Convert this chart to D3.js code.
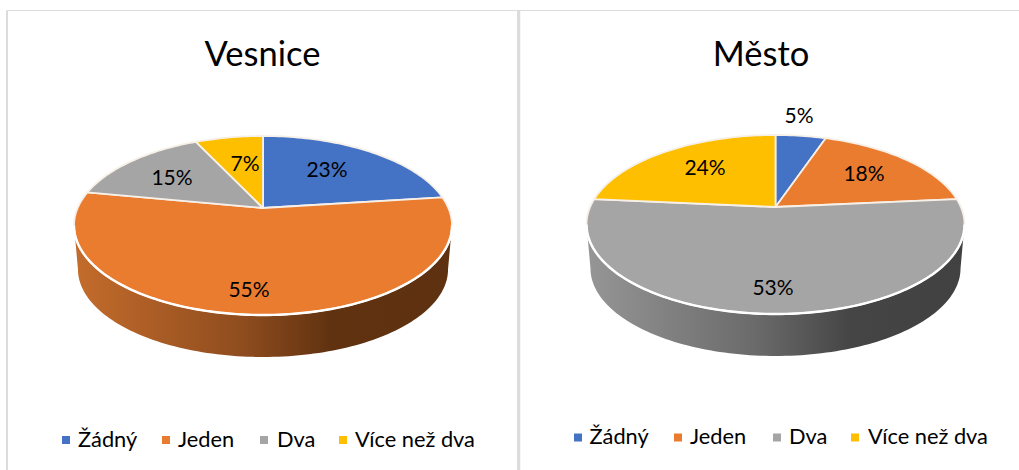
<!DOCTYPE html>
<html><head><meta charset="utf-8">
<script src="https://cdnjs.cloudflare.com/ajax/libs/d3/7.8.5/d3.min.js"></script>
<style>html,body{margin:0;padding:0;background:#fff}svg{display:block}text{font-family:Lato,"Open Sans",sans-serif;fill:#000}</style>
</head><body><div id="c"></div>
<script>
const categories = ["Žádný","Jeden","Dva","Více než dva"];
const colors = ["#4472C4","#EA7C30","#A5A5A5","#FEBF00"];
const vesniceValues = [23,55,15,7];
const mestoValues = [5.2,18.3,53,23.5];
const titles = ["Vesnice","Město"];

const W=1019,H=470;
const svg=d3.select("#c").append("svg").attr("width",W).attr("height",H);
const defs=svg.append("defs");

// frames
const frame=[[7,10.5,7,470],[7,10.5,1019,10.5],[518,10.5,518,470],[519.5,10.5,519.5,470]];
const frameW=[2,1,2,1.5];
frame.forEach((f,i)=>svg.append("line").attr("x1",f[0]).attr("y1",f[1]).attr("x2",f[2]).attr("y2",f[3])
  .attr("stroke","#DCDCDC").attr("stroke-width",frameW[i]));

const panels=[
 {values:vesniceValues,title:titles[0],tx:262.5,ty:66,cx:263,far:136,apex:208,near:315,
  labels:[[327,170],[249,290],[172,178],[245,164]],
  lx:[62,162,260,339],tx2:[78,178,277,355],ly:446.5,
  grad:[["0%","#C46C2C"],["45%","#8E4C1E"],["68%","#603210"],["100%","#5E3110"]]},
 {values:mestoValues,title:titles[1],tx:761,ty:66,cx:775.5,far:135,apex:207,near:314,
  labels:[[799,116],[864,174],[773,288],[705,168]],
  lx:[574,674,773,851],tx2:[589.5,690,789,868],ly:444,
  grad:[["0%","#969696"],["45%","#6A6A6A"],["70%","#454545"],["100%","#414141"]]}
];
const RX=189,DEPTH=42,SHRINK=0.979;

panels.forEach((p,pi)=>{
  const g=svg.append("g");
  // perspective projection of the unit disc
  const b=p.apex;
  const c=(2*b-p.far-p.near)/(p.far-p.near);
  const a=p.far*(1+c)-b;
  const K=RX*Math.sqrt(1-c*c);
  const ecy=(p.far+p.near)/2, ery=(p.near-p.far)/2;
  const proj=(th)=>{const u=Math.sin(th),v=Math.cos(th),d=1+c*v;
    return [p.cx+K*u/d,(a*v+b)/d];};
  const projB=th=>{const q=proj(th);const bry=ery*SHRINK;const bcy=p.near+DEPTH-bry;
    return [p.cx+(q[0]-p.cx)*SHRINK,bcy+(q[1]-ecy)*SHRINK];};
  const line=d3.line();
  const th0=Math.acos(-c),th1=2*Math.PI-th0;
  const thetas=d3.range(0,121).map(i=>th0+(th1-th0)*i/120);

  // side wall
  const gid="side"+pi;
  const lg=defs.append("linearGradient").attr("id",gid).attr("gradientUnits","userSpaceOnUse")
    .attr("x1",p.cx-RX).attr("x2",p.cx+RX).attr("y1",0).attr("y2",0);
  p.grad.forEach(s=>lg.append("stop").attr("offset",s[0]).attr("stop-color",s[1]));
  const sidePts=thetas.map(t=>proj(t)).concat(thetas.slice().reverse().map(t=>projB(t)));
  g.append("path").attr("d",line(sidePts)+"Z").attr("fill","url(#"+gid+")");

  // top face slices
  const pie=d3.pie().sort(null)(p.values);
  pie.forEach((s,i)=>{
    const n=Math.max(4,Math.ceil((s.endAngle-s.startAngle)*40));
    const arcPts=d3.range(0,n+1).map(k=>proj(s.startAngle+(s.endAngle-s.startAngle)*k/n));
    g.append("path").attr("d",line([[p.cx,b],...arcPts])+"Z")
      .attr("fill",colors[i]).attr("stroke","#F6F0E8").attr("stroke-width",1.8).attr("stroke-linejoin","round");
  });
  // bright rim on the near edge
  g.append("path").attr("d",line(thetas.map(t=>proj(t)))).attr("fill","none").attr("stroke","#FFFFFF").attr("stroke-width",2.4);

  // data labels
  p.values.forEach((v,i)=>{
    g.append("text").attr("x",p.labels[i][0]).attr("y",p.labels[i][1]+7).attr("text-anchor","middle")
      .attr("font-size",21).text(Math.round(v)+"%");
  });
  // title
  g.append("text").attr("x",p.tx).attr("y",p.ty).attr("text-anchor","middle").attr("font-size",34.5).text(p.title);
  // legend
  categories.forEach((cat,i)=>{
    g.append("rect").attr("x",p.lx[i]).attr("y",p.ly-10.5).attr("width",8).attr("height",8).attr("fill",colors[i]);
    g.append("text").attr("x",p.tx2[i]).attr("y",p.ly).attr("font-size",21.8).text(cat);
  });
});
</script></body></html>
